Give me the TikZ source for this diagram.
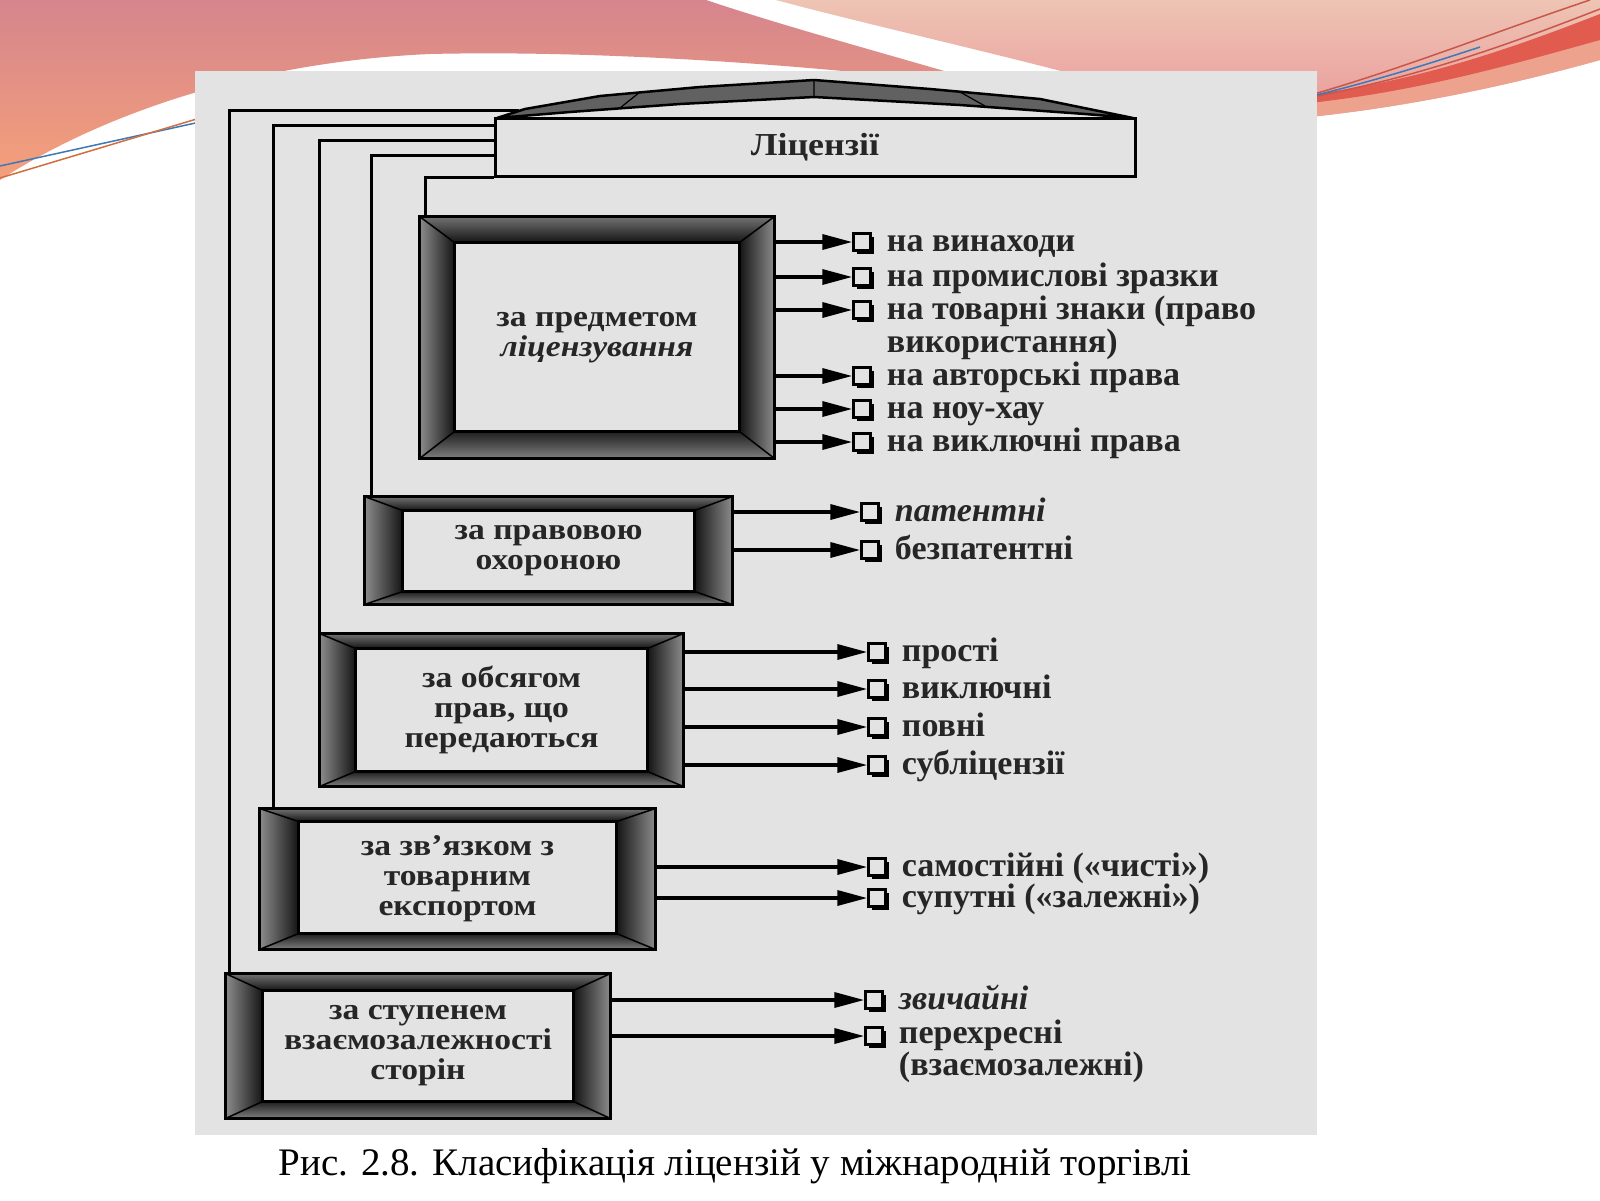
\documentclass[tikz,border=0pt]{standalone}
\usepackage{fontspec}
\setmainfont{Liberation Serif}
\newfontfamily\boxfont[FakeStretch=1.12]{Liberation Serif}
\usetikzlibrary{arrows.meta,calc,shadows}
\definecolor{panel}{HTML}{E3E3E3}
\definecolor{ink}{HTML}{262626}
\definecolor{salA}{HTML}{D5858D}
\definecolor{salB}{HTML}{F5A07A}
\definecolor{pinkA}{HTML}{EEC4B4}
\definecolor{pinkB}{HTML}{EA9A9A}
\definecolor{bandR}{HTML}{E15B4E}
\definecolor{bandS}{HTML}{ECA28C}
\definecolor{lineR}{HTML}{C8574A}
\definecolor{lineB}{HTML}{3D78B8}
\definecolor{lineO}{HTML}{D07040}

\newcommand\bevel[4]{%
  \coordinate (o1) at (#1.north west);
  \coordinate (o2) at (#1.north east);
  \coordinate (o3) at (#1.south east);
  \coordinate (o4) at (#1.south west);
  \coordinate (i1) at ($(o1)+(#2,#3)$);
  \coordinate (i2) at ($(o2)+(-#2,#3)$);
  \coordinate (i3) at ($(o3)+(-#2,-#4)$);
  \coordinate (i4) at ($(o4)+(#2,-#4)$);
  \shade[top color=black!55, bottom color=black!92] (o1)--(o2)--(i2)--(i1)--cycle;
  \shade[left color=black!45, right color=black!92] (o1)--(i1)--(i4)--(o4)--cycle;
  \shade[left color=black!92, right color=black!45] (o2)--(i2)--(i3)--(o3)--cycle;
  \shade[top color=black!88, bottom color=black!50] (o4)--(i4)--(i3)--(o3)--cycle;
  \draw[line width=1.5pt] (o1)--(i1) (o2)--(i2) (o3)--(i3) (o4)--(i4);
  \draw[line width=2.5pt] (i1) rectangle (i3);
  \draw[line width=3pt] (o1) rectangle (o3);
}
% item: box, name, x, y, text
\newcommand\itm[5]{%
  \node[chk] (#2) at (#3,#4) {};
  \node[item] (#2t) at ($(#2.east)+(15,9)$) {#5};
  \draw[arr] (#1.east |- #2) -- (#2.west);
}
% two-line item: box, name, x, y, text, line skip
\newcommand\itmtwo[6]{%
  \node[chk] (#2) at (#3,#4) {};
  \node[item, font=\fontsize{34}{#6}\selectfont\bfseries] (#2t) at ($(#2.east)+(15,9+#6)$) {#5};
  \draw[arr] (#1.east |- #2) -- (#2.west);
}

\begin{document}
\begin{tikzpicture}[x=1pt,y=-1pt,
  lbl/.style={font=\boxfont\fontsize{30}{30}\selectfont\bfseries, text=ink},
  box/.style={draw=black, line width=3pt, fill=panel, inner sep=0pt, align=center, lbl},
  chk/.style={draw=black, line width=2.5pt, fill=panel, minimum size=17pt, inner sep=0pt,
    drop shadow={shadow xshift=3pt, shadow yshift=-3pt, fill=black, opacity=1}},
  item/.style={font=\fontsize{34}{33}\selectfont\bfseries, text=ink, anchor=base west, inner sep=0pt, align=left},
  arr/.style={line width=3.5pt, -{Triangle[length=30pt,width=15pt]}},
  link/.style={line width=3.5pt},
]
\useasboundingbox (0,0) rectangle (1600,1200);
\fill[white] (0,0) rectangle (1600,1200);

% slide decoration
\shade[top color=salA, bottom color=salB] (0,0) -- (706,0)
  .. controls (790,28) and (880,52) .. (975,80) -- (930,80)
  .. controls (800,65) and (600,50) .. (430,54)
  .. controls (250,62) and (100,115) .. (0,180) -- cycle;
\shade[top color=pinkA, bottom color=pinkB] (776,0) -- (1600,0) -- (1600,60)
  .. controls (1500,88) and (1400,108) .. (1300,118) -- (1100,118) -- (1061,71)
  .. controls (960,45) and (850,20) .. (776,0) -- cycle;
\fill[bandS] (1300,100) .. controls (1420,88) and (1520,60) .. (1600,38) -- (1600,60)
  .. controls (1500,88) and (1400,108) .. (1300,118) -- cycle;
\fill[bandR] (1300,96) .. controls (1420,82) and (1520,45) .. (1600,14) -- (1600,40)
  .. controls (1520,62) and (1420,92) .. (1300,104) -- cycle;
\draw[lineR, line width=1.5pt] (1300,98) .. controls (1400,70) and (1500,30) .. (1590,0);
\draw[lineR, line width=1.5pt] (1300,99) .. controls (1420,78) and (1520,40) .. (1600,9);
\draw[lineB, line width=1.5pt] (1300,99) .. controls (1380,80) and (1440,60) .. (1480,47);
\draw[lineB, line width=1.5pt] (0,166) -- (200,122);
\draw[lineO, line width=1.5pt] (0,178) -- (200,118);

% panel
\fill[panel] (195,71) rectangle (1317,1135);

% top box
\node[draw, line width=3pt, fill=panel, minimum width=640pt, minimum height=58pt, inner sep=0pt, lbl, font=\boxfont\fontsize{32}{32}\selectfont\bfseries] (lic) at (815,147) {Ліцензії};
\filldraw[fill=black!62, line width=2.5pt, line join=round]
  (497,118) -- (525,109) -- (600,96) -- (700,87) -- (814,80) -- (930,89) -- (1040,99) -- (1133,118)
  -- (1085,114) -- (960,105) -- (814,97) -- (680,104) -- (570,112) -- cycle;
\draw[line width=1.2pt] (814,80) -- (814,97) (640,92) -- (620,108) (960,92) -- (985,106);

% category boxes
\node[box, minimum width=352pt, minimum height=239pt] (b1) at (597,337.5) {за предметом\\\textit{ліцензування}};
\bevel{b1}{35}{26}{27}
\node[box, minimum width=365pt, minimum height=105pt] (b2) at (548.5,550.5) {за правовою\\охороною};
\bevel{b2}{38}{14}{13}
\node[box, minimum width=361pt, minimum height=150pt] (b3) at (501.5,710) {за обсягом\\прав, що\\передаються};
\bevel{b3}{36}{15}{15}
\node[box, minimum width=393pt, minimum height=138pt] (b4) at (457.5,879) {за зв’язком з\\товарним\\експортом};
\bevel{b4}{39}{13}{16}
\node[box, minimum width=382pt, minimum height=142pt] (b5) at (418,1046) {за ступенем\\взаємозалежності\\сторін};
\bevel{b5}{37}{17}{17}

% tree connectors
\draw[link] ($(lic.north west)+(25,-6)$) -| ($(b5.north west)+(4,0)$);
\draw[link] ($(lic.north west)+(0,9)$) -| ($(b4.north west)+(14,0)$);
\draw[link] ($(lic.north west)+(0,24)$) -| ($(b3.north west)+(0,0)$);
\draw[link] ($(lic.north west)+(0,39)$) -| ($(b2.north west)+(7,0)$);
\draw[link] (lic.south west) -| ($(b1.north west)+(6,0)$);

% items
\itm{b1}{c11}{862}{242}{на винаходи}
\itm{b1}{c12}{862}{277}{на промислові зразки}
\itmtwo{b1}{c13}{862}{310}{на товарні знаки (право\\використання)}{33}
\itm{b1}{c14}{862}{376}{на авторські права}
\itm{b1}{c15}{862}{409}{на ноу-хау}
\itm{b1}{c16}{862}{442}{на виключні права}
\itm{b2}{c21}{870}{512}{\textit{патентні}}
\itm{b2}{c22}{870}{550}{безпатентні}
\itm{b3}{c31}{877}{652}{прості}
\itm{b3}{c32}{877}{689}{виключні}
\itm{b3}{c33}{877}{727}{повні}
\itm{b3}{c34}{877}{765}{субліцензії}
\itm{b4}{c41}{877}{867}{самостійні («чисті»)}
\itm{b4}{c42}{877}{898}{супутні («залежні»)}
\itm{b5}{c51}{874}{1000}{\textit{звичайні}}
\itmtwo{b5}{c52}{874}{1036}{перехресні\\(взаємозалежні)}{30}

% caption
\node[font=\fontsize{39}{43}\selectfont, text=black] (cap) at (735,1166) {Рис. 2.8. Класифікація ліцензій у міжнародній торгівлі};
\end{tikzpicture}
\end{document}
